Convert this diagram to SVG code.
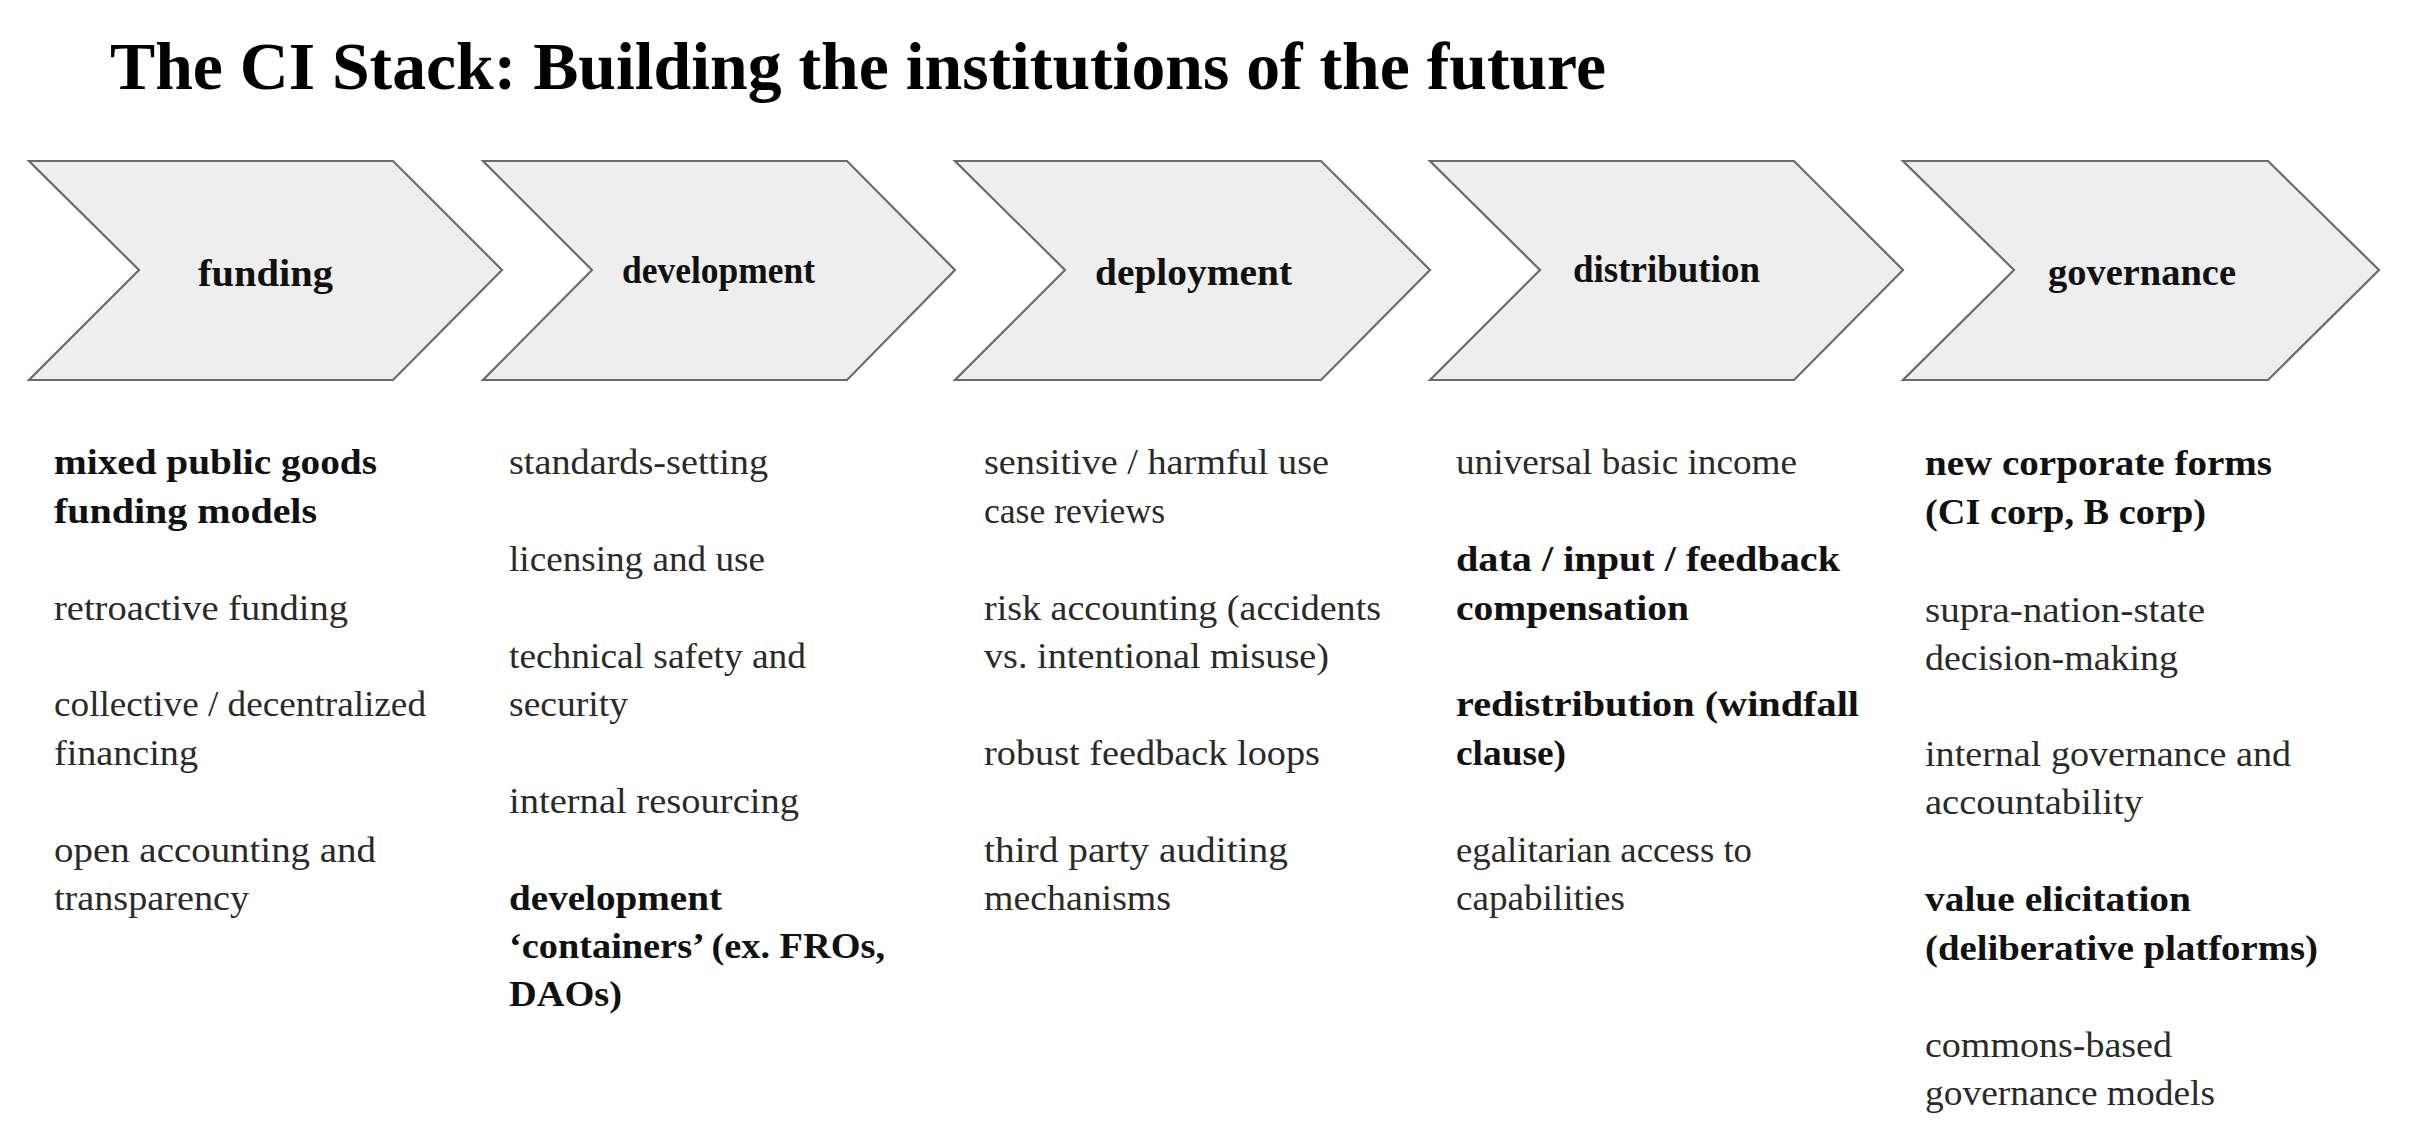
<svg xmlns="http://www.w3.org/2000/svg" width="2416" height="1146" viewBox="0 0 2416 1146">
<style>
  .bg { fill: #ffffff; }
  .chev { fill: #eeeeee; stroke: #6b6b6b; stroke-width: 2.2; stroke-linejoin: miter; }
  .title { font-family: "Liberation Serif", "DejaVu Serif", serif; font-weight: bold; font-size: 68px; fill: #000000; }
  .lbl { font-family: "Liberation Serif", "DejaVu Serif", serif; font-weight: bold; font-size: 37px; fill: #111111; }
  .t { font-family: "Liberation Serif", "DejaVu Serif", serif; font-size: 36px; fill: #2a2a2a; }
  .b { font-family: "Liberation Serif", "DejaVu Serif", serif; font-size: 36px; font-weight: bold; fill: #111111; }
</style>
<rect class="bg" x="0" y="0" width="2416" height="1146"/>
<text class="title" x="110" y="89" textLength="1496" lengthAdjust="spacingAndGlyphs">The CI Stack: Building the institutions of the future</text>

<g id="connectors"></g>

<g id="stage-funding">
  <polygon class="chev" points="29,161 393,161 502,270 393,380 29,380 139,270"/>
  <text class="lbl" x="198" y="286" textLength="135" lengthAdjust="spacingAndGlyphs">funding</text>
</g>
<g id="stage-development">
  <polygon class="chev" points="483,161 847,161 955,270 847,380 483,380 592,270"/>
  <text class="lbl" x="622" y="283" textLength="193" lengthAdjust="spacingAndGlyphs">development</text>
</g>
<g id="stage-deployment">
  <polygon class="chev" points="955,161 1321,161 1430,270 1321,380 955,380 1065,270"/>
  <text class="lbl" x="1095" y="285" textLength="197" lengthAdjust="spacingAndGlyphs">deployment</text>
</g>
<g id="stage-distribution">
  <polygon class="chev" points="1430,161 1794,161 1903,270 1794,380 1430,380 1540,270"/>
  <text class="lbl" x="1573" y="282" textLength="187" lengthAdjust="spacingAndGlyphs">distribution</text>
</g>
<g id="stage-governance">
  <polygon class="chev" points="1903,161 2268,161 2379,270 2268,380 1903,380 2014,270"/>
  <text class="lbl" x="2048" y="285" textLength="188" lengthAdjust="spacingAndGlyphs">governance</text>
</g>

<g id="list-funding">
  <text class="b" x="54" y="474" textLength="323" lengthAdjust="spacingAndGlyphs">mixed public goods</text>
  <text class="b" x="54" y="523" textLength="263" lengthAdjust="spacingAndGlyphs">funding models</text>
  <text class="t" x="54" y="620" textLength="294" lengthAdjust="spacingAndGlyphs">retroactive funding</text>
  <text class="t" x="54" y="716" textLength="372" lengthAdjust="spacingAndGlyphs">collective / decentralized</text>
  <text class="t" x="54" y="765" textLength="144" lengthAdjust="spacingAndGlyphs">financing</text>
  <text class="t" x="54" y="862" textLength="322" lengthAdjust="spacingAndGlyphs">open accounting and</text>
  <text class="t" x="54" y="910" textLength="195" lengthAdjust="spacingAndGlyphs">transparency</text>
</g>
<g id="list-development">
  <text class="t" x="509" y="474" textLength="259" lengthAdjust="spacingAndGlyphs">standards-setting</text>
  <text class="t" x="509" y="571" textLength="256" lengthAdjust="spacingAndGlyphs">licensing and use</text>
  <text class="t" x="509" y="668" textLength="297" lengthAdjust="spacingAndGlyphs">technical safety and</text>
  <text class="t" x="509" y="716" textLength="119" lengthAdjust="spacingAndGlyphs">security</text>
  <text class="t" x="509" y="813" textLength="290" lengthAdjust="spacingAndGlyphs">internal resourcing</text>
  <text class="b" x="509" y="910" textLength="213" lengthAdjust="spacingAndGlyphs">development</text>
  <text class="b" x="509" y="958" textLength="376" lengthAdjust="spacingAndGlyphs">‘containers’ (ex. FROs,</text>
  <text class="b" x="509" y="1006" textLength="113" lengthAdjust="spacingAndGlyphs">DAOs)</text>
</g>
<g id="list-deployment">
  <text class="t" x="984" y="474" textLength="345" lengthAdjust="spacingAndGlyphs">sensitive / harmful use</text>
  <text class="t" x="984" y="523" textLength="181" lengthAdjust="spacingAndGlyphs">case reviews</text>
  <text class="t" x="984" y="620" textLength="397" lengthAdjust="spacingAndGlyphs">risk accounting (accidents</text>
  <text class="t" x="984" y="668" textLength="345" lengthAdjust="spacingAndGlyphs">vs. intentional misuse)</text>
  <text class="t" x="984" y="765" textLength="336" lengthAdjust="spacingAndGlyphs">robust feedback loops</text>
  <text class="t" x="984" y="862" textLength="304" lengthAdjust="spacingAndGlyphs">third party auditing</text>
  <text class="t" x="984" y="910" textLength="187" lengthAdjust="spacingAndGlyphs">mechanisms</text>
</g>
<g id="list-distribution">
  <text class="t" x="1456" y="474" textLength="341" lengthAdjust="spacingAndGlyphs">universal basic income</text>
  <text class="b" x="1456" y="571" textLength="384" lengthAdjust="spacingAndGlyphs">data / input / feedback</text>
  <text class="b" x="1456" y="620" textLength="233" lengthAdjust="spacingAndGlyphs">compensation</text>
  <text class="b" x="1456" y="716" textLength="403" lengthAdjust="spacingAndGlyphs">redistribution (windfall</text>
  <text class="b" x="1456" y="765" textLength="110" lengthAdjust="spacingAndGlyphs">clause)</text>
  <text class="t" x="1456" y="862" textLength="296" lengthAdjust="spacingAndGlyphs">egalitarian access to</text>
  <text class="t" x="1456" y="910" textLength="169" lengthAdjust="spacingAndGlyphs">capabilities</text>
</g>
<g id="list-governance">
  <text class="b" x="1925" y="475" textLength="347" lengthAdjust="spacingAndGlyphs">new corporate forms</text>
  <text class="b" x="1925" y="524" textLength="281" lengthAdjust="spacingAndGlyphs">(CI corp, B corp)</text>
  <text class="t" x="1925" y="622" textLength="280" lengthAdjust="spacingAndGlyphs">supra-nation-state</text>
  <text class="t" x="1925" y="670" textLength="253" lengthAdjust="spacingAndGlyphs">decision-making</text>
  <text class="t" x="1925" y="766" textLength="366" lengthAdjust="spacingAndGlyphs">internal governance and</text>
  <text class="t" x="1925" y="814" textLength="218" lengthAdjust="spacingAndGlyphs">accountability</text>
  <text class="b" x="1925" y="911" textLength="266" lengthAdjust="spacingAndGlyphs">value elicitation</text>
  <text class="b" x="1925" y="960" textLength="393" lengthAdjust="spacingAndGlyphs">(deliberative platforms)</text>
  <text class="t" x="1925" y="1057" textLength="247" lengthAdjust="spacingAndGlyphs">commons-based</text>
  <text class="t" x="1925" y="1105" textLength="290" lengthAdjust="spacingAndGlyphs">governance models</text>
</g>
</svg>
